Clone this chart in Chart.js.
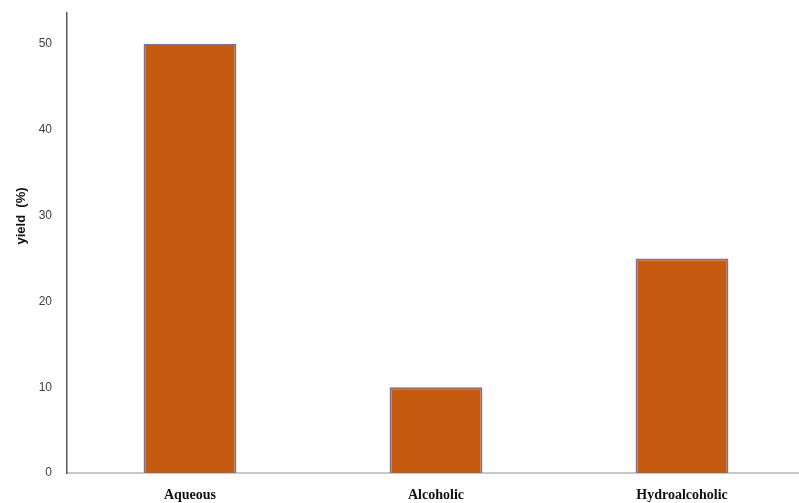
<!DOCTYPE html>
<html>
<head>
<meta charset="utf-8">
<script src="https://cdn.jsdelivr.net/npm/chart.js@4"></script>
<style>
html,body{margin:0;padding:0;background:#fff;overflow:hidden;width:799px;height:503px;}
#wrap{width:805px;height:512px;position:relative;top:-9px;}
</style>
</head>
<body>
<div id="wrap"><canvas id="c"></canvas></div>
<script>
const categories = ["Aqueous", "Alcoholic", "Hydroalcoholic"];
const yieldValues = [50, 10, 25];
const yTickValues = [0, 10, 20, 30, 40, 50];

new Chart(document.getElementById('c'), {
  type: 'bar',
  data: {
    labels: categories,
    datasets: [{
      data: yieldValues,
      backgroundColor: '#C55A11',
      borderColor: '#7f6f8c',
      borderWidth: 2,
      barPercentage: 0.755,
      categoryPercentage: 0.5
    }]
  },
  options: {
    responsive: true,
    maintainAspectRatio: false,
    animation: false,
    layout: { padding: { top: 3, right: 0, left: 0, bottom: 0 } },
    plugins: { legend: { display: false }, tooltip: { enabled: false } },
    scales: {
      x: {
        grid: { display: false, drawTicks: false },
        border: { color: '#c8c8c8', width: 2 },
        ticks: {
          color: '#111',
          font: { family: 'Liberation Serif', size: 14, weight: 'bold' },
          padding: 14
        },
        afterFit: s => { s.height = 30; }
      },
      y: {
        min: 0,
        max: 53.6,
        grid: { display: false, drawTicks: false },
        border: { color: '#595959', width: 1.5 },
        afterBuildTicks: s => { s.ticks = yTickValues.map(v => ({ value: v })); },
        ticks: {
          color: '#404040',
          font: { family: 'Liberation Sans', size: 12 },
          padding: 15
        },
        title: {
          display: true,
          text: '\u00a0'.repeat(15) + 'yield  (%)',
          color: '#111',
          font: { family: 'Liberation Sans', size: 13, weight: 'bold' },
          padding: { top: 14, bottom: 0 }
        },
        afterFit: s => { s.width = 67; }
      }
    }
  }
});
</script>
</body>
</html>
